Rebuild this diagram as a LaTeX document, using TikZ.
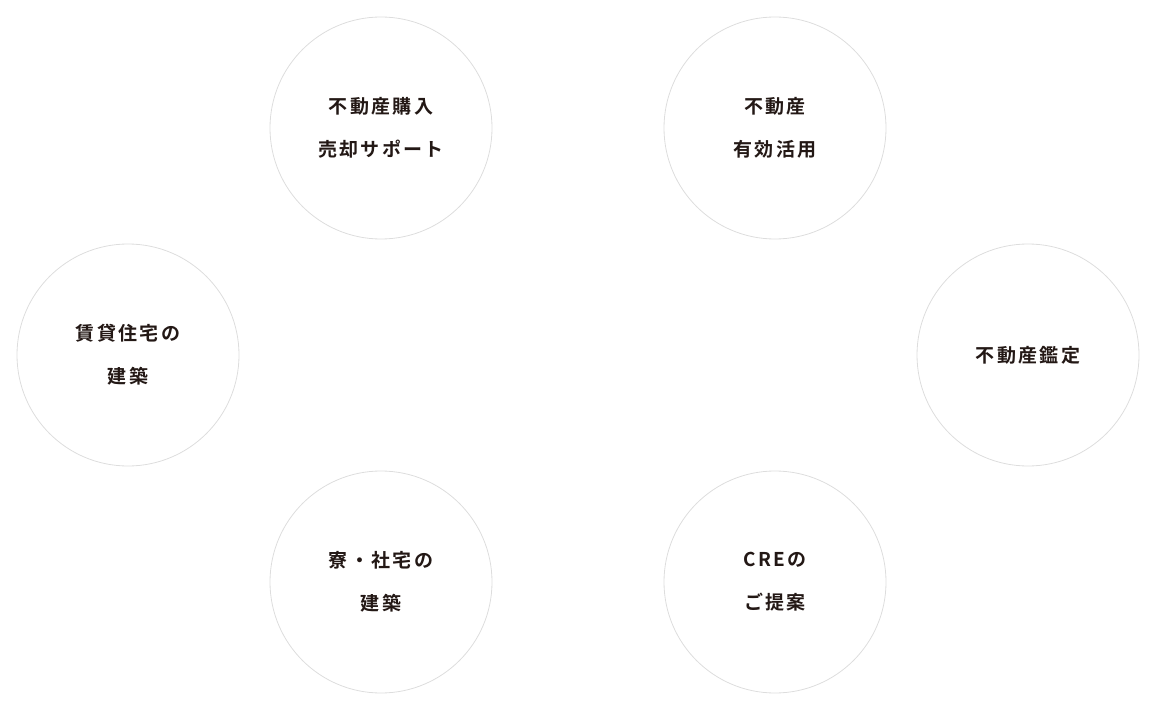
\documentclass[tikz,border=0pt]{standalone}
\usepackage{fontspec}
\newfontfamily\cjk[LetterSpace=12]{Noto Sans CJK JP Bold}
\definecolor{ink}{HTML}{231815}
\definecolor{ring}{HTML}{DDDDDD}
\begin{document}
\begin{tikzpicture}[x=1pt,y=-1pt,
  svc/.style={circle,draw=ring,line width=0.8pt,minimum size=222pt,inner sep=0pt,
    font=\cjk\fontsize{19}{43}\selectfont,text=ink,align=center}]
\useasboundingbox (0,0) rectangle (1156,711);
\node[svc] (a) at (381,128) {不動産購入\\売却サポート};
\node[svc] (b) at (775,128) {不動産\\有効活用};
\node[svc] (c) at (128,355) {賃貸住宅の\\建築};
\node[svc] (d) at (1028,355) {不動産鑑定};
\node[svc] (e) at (381,582) {寮・社宅の\\建築};
\node[svc] (f) at (775,582) {CREの\\ご提案};
\end{tikzpicture}
\end{document}
